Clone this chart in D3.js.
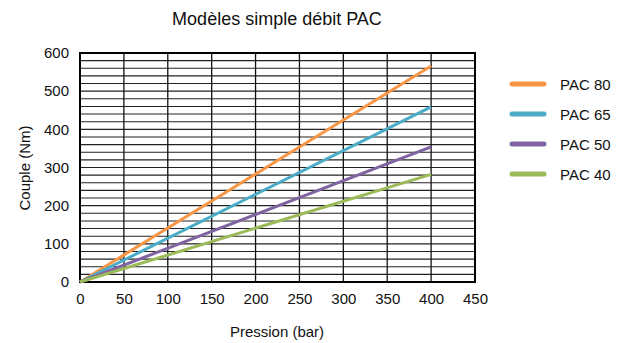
<!DOCTYPE html>
<html><head><meta charset="utf-8">
<script src="https://cdn.jsdelivr.net/npm/d3@7/dist/d3.min.js"></script>
<style>body{margin:0;background:#fff}text{font-family:"Liberation Sans",Arial,sans-serif;fill:#111}</style>
</head><body><svg id="c" width="626" height="343"></svg>
<script>
const title = "Modèles simple débit PAC";
const xLabel = "Pression (bar)";
const yLabel = "Couple (Nm)";
const seriesNames = ["PAC 80", "PAC 65", "PAC 50", "PAC 40"];
const colors = ["#F79646", "#4BACC6", "#8064A2", "#9BBB59"];
const pressures = [0, 400];
const pac80 = [0, 566];
const pac65 = [0, 459];
const pac50 = [0, 354];
const pac40 = [0, 282];
const seriesValues = [pac80, pac65, pac50, pac40];
const xTicks = [0, 50, 100, 150, 200, 250, 300, 350, 400, 450];
const yTicks = [0, 100, 200, 300, 400, 500, 600];
const yMinor = d3.range(0, 601, 20);

const svg = d3.select("#c");
const L = 80, R = 475, T = 53, B = 282;
const x = d3.scaleLinear().domain([0, 450]).range([L, R]);
const y = d3.scaleLinear().domain([0, 600]).range([B, T]);

svg.append("g").selectAll("line").data(yMinor).join("line")
  .attr("x1", L).attr("x2", R).attr("y1", d => y(d)).attr("y2", d => y(d))
  .attr("stroke", "#222").attr("stroke-width", 1.1);
svg.append("g").selectAll("line").data(xTicks).join("line")
  .attr("y1", T).attr("y2", B).attr("x1", d => x(d)).attr("x2", d => x(d))
  .attr("stroke", "#111").attr("stroke-width", 1.3);
svg.append("rect").attr("x", L).attr("y", T).attr("width", R - L).attr("height", B - T)
  .attr("fill", "none").attr("stroke", "#000").attr("stroke-width", 2);

const xAxis = svg.append("g").attr("transform", `translate(0,${B})`)
  .call(d3.axisBottom(x).tickValues(xTicks).tickSize(0).tickPadding(11).tickFormat(d3.format("d")));
const yAxis = svg.append("g").attr("transform", `translate(${L},0)`)
  .call(d3.axisLeft(y).tickValues(yTicks).tickSize(0).tickPadding(11).tickFormat(d3.format("d")));
[xAxis, yAxis].forEach(a => {
  a.select(".domain").remove();
  a.selectAll("text").attr("font-size", 15).attr("fill", "#111")
    .attr("font-family", '"Liberation Sans",Arial,sans-serif');
});

const line = d3.line().x((d, i) => x(pressures[i])).y(d => y(d));
svg.append("g").selectAll("path").data(seriesValues).join("path")
  .attr("d", d => line(d)).attr("fill", "none")
  .attr("stroke", (d, i) => colors[i]).attr("stroke-width", 3);

svg.append("text").attr("x", 277).attr("y", 25).attr("text-anchor", "middle")
  .attr("font-size", 18).text(title);
svg.append("text").attr("x", 277).attr("y", 337).attr("text-anchor", "middle")
  .attr("font-size", 15).text(xLabel);
svg.append("text").attr("transform", "translate(30,168) rotate(-90)").attr("text-anchor", "middle")
  .attr("font-size", 15).text(yLabel);

const lg = svg.append("g").selectAll("g").data(seriesNames).join("g")
  .attr("transform", (d, i) => `translate(0,${84 + i * 30})`);
lg.append("line").attr("x1", 512).attr("x2", 544).attr("y1", 0).attr("y2", 0)
  .attr("stroke", (d, i) => colors[i]).attr("stroke-width", 5).attr("stroke-linecap", "round");
lg.append("text").attr("x", 560).attr("y", 5.5).attr("font-size", 15).text(d => d);
</script></body></html>
